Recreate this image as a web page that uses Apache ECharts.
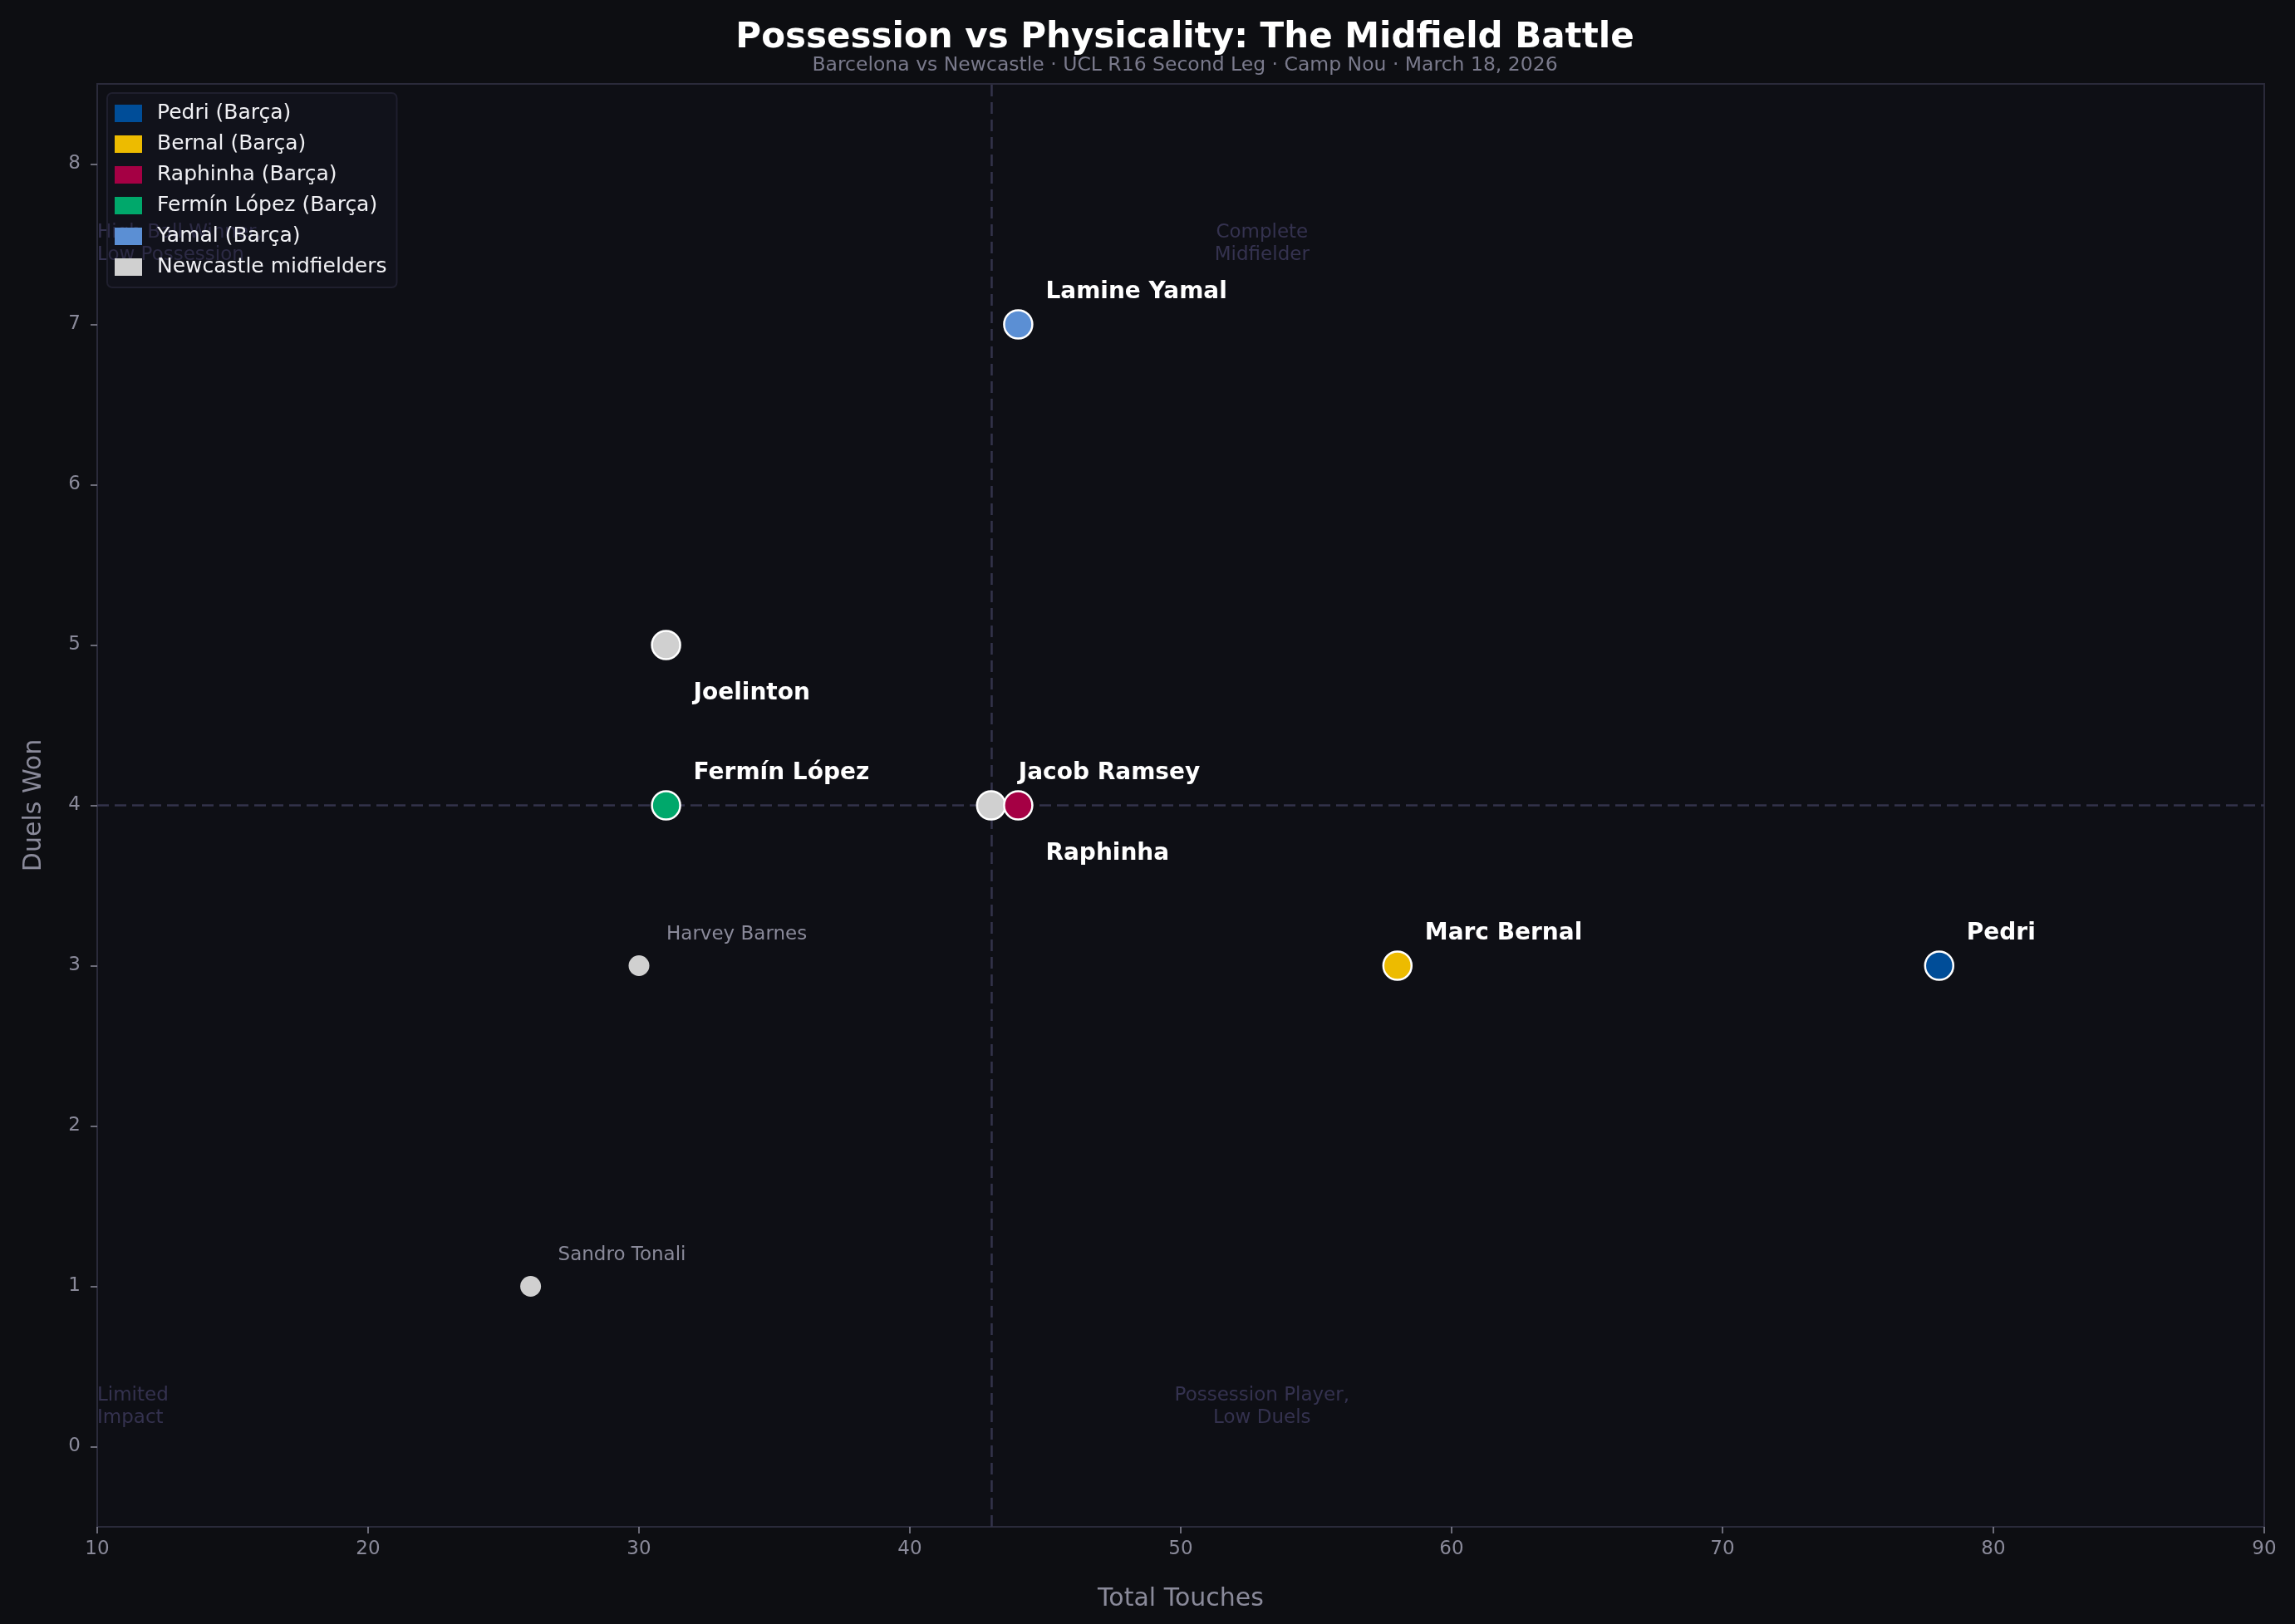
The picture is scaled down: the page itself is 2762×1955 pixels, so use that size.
<!DOCTYPE html>
<html>
<head>
<meta charset="utf-8">
<title>Possession vs Physicality</title>
<script src="https://cdn.jsdelivr.net/npm/echarts@6/dist/echarts.min.js"></script>
<style>
  html, body { margin: 0; padding: 0; background: #0d0e12; }
  #chart { width: 2762px; height: 1955px; }
</style>
</head>
<body>
<div id="chart"></div>
<script>
// --- data ---
var barcaNames = ['Pedri', 'Marc Bernal', 'Raphinha', 'Fermín López', 'Lamine Yamal'];
var barcaLegend = ['Pedri (Barça)', 'Bernal (Barça)', 'Raphinha (Barça)', 'Fermín López (Barça)', 'Yamal (Barça)'];
var barcaTouches = [78, 58, 44, 31, 44];
var barcaDuels = [3, 3, 4, 4, 7];

var newcastleNames = ['Joelinton', 'Jacob Ramsey', 'Harvey Barnes', 'Sandro Tonali'];
var newcastleTouches = [31, 43, 30, 26];
var newcastleDuels = [5, 4, 3, 1];

var touchRef = 43;   // vertical split
var duelRef = 4;     // horizontal split

var yTicks = [0, 1, 2, 3, 4, 5, 6, 7, 8];
var quadrantTexts = ['High Ball Winner,\nLow Possession', 'Complete\nMidfielder', 'Limited\nImpact', 'Possession Player,\nLow Duels'];

// --- style ---
var FONT = 'DejaVu Sans';
var barcaColors = ['#004d98', '#edbb00', '#a50044', '#00a86b', '#5b8fd4'];
var newcastleColor = '#d0d0d0';
var labelBelow = ['Joelinton', 'Raphinha'];
var keyNewcastle = ['Joelinton', 'Jacob Ramsey'];
// anchor of each quadrant caption, in data units, with text alignment
var quadrantAnchors = [[10, 7.5, 'left'], [53, 7.5, 'center'], [10, 0.25, 'left'], [53, 0.25, 'center']];

function pointLabel(name, strong) {
  var dy = labelBelow.indexOf(name) >= 0 ? 58 : (strong ? -39 : -37);
  return {
    show: true,
    position: 'inside',
    align: 'left',
    verticalAlign: 'middle',
    offset: [33, dy],
    formatter: name,
    color: strong ? '#ffffff' : '#8a8a9a',
    fontSize: strong ? 28 : 23,
    fontWeight: strong ? 'bold' : 'normal',
    fontFamily: FONT
  };
}

var series = [];

// reference lines + quadrant captions (behind everything)
series.push({
  type: 'scatter',
  name: 'quadrants',
  z: 1,
  silent: true,
  symbolSize: 0,
  data: quadrantTexts.map(function(t, i) {
    return {
      value: [quadrantAnchors[i][0], quadrantAnchors[i][1]],
      label: {
        show: true,
        position: 'inside',
        align: quadrantAnchors[i][2],
        verticalAlign: 'middle',
        formatter: t,
        color: '#3e3b5e',
        fontSize: 23,
        lineHeight: 27,
        fontFamily: FONT
      }
    };
  }),
  markLine: {
    silent: true,
    z: 1,
    symbol: 'none',
    label: { show: false },
    lineStyle: { color: '#33334a', type: [14, 7], width: 2.5, opacity: 1 },
    data: [{ xAxis: touchRef }, { yAxis: duelRef }]
  }
});

series.push({
  type: 'scatter',
  name: 'Newcastle midfielders',
  z: 3,
  itemStyle: { color: newcastleColor, opacity: 1 },
  data: newcastleNames.map(function(n, i) {
    var strong = keyNewcastle.indexOf(n) >= 0;
    return {
      name: n,
      value: [newcastleTouches[i], newcastleDuels[i]],
      symbolSize: strong ? 34 : 25,
      itemStyle: strong ? { borderColor: '#ffffff', borderWidth: 2.5, opacity: 1 } : { borderWidth: 0, opacity: 1 },
      label: pointLabel(n, strong)
    };
  })
});

barcaNames.forEach(function(n, i) {
  series.push({
    type: 'scatter',
    name: barcaLegend[i],
    z: 4,
    symbolSize: 34,
    itemStyle: { color: barcaColors[i], borderColor: '#ffffff', borderWidth: 2.5, opacity: 1 },
    data: [{ name: n, value: [barcaTouches[i], barcaDuels[i]], label: pointLabel(n, true) }]
  });
});

var chart = echarts.init(document.getElementById('chart'));
chart.setOption({
  backgroundColor: '#0d0e12',
  animation: false,
  title: {
    text: 'Possession vs Physicality: The Midfield Battle',
    subtext: 'Barcelona vs Newcastle · UCL R16 Second Leg · Camp Nou · March 18, 2026',
    left: 1421,
    textAlign: 'center',
    top: 20,
    itemGap: 0,
    textStyle: { color: '#ffffff', fontSize: 42, fontWeight: 'bold', fontFamily: FONT },
    subtextStyle: { color: '#7a7a8c', fontSize: 23.5, fontFamily: FONT }
  },
  legend: {
    data: barcaLegend.concat(['Newcastle midfielders']),
    orient: 'vertical',
    left: 129,
    top: 112,
    icon: 'rect',
    itemWidth: 33,
    itemHeight: 21,
    itemGap: 12,
    padding: [12, 12, 12, 9],
    backgroundColor: 'rgba(26,26,44,0.3)',
    borderColor: '#1f1f2e',
    borderWidth: 2,
    borderRadius: 6,
    itemStyle: { borderWidth: 0, opacity: 1 },
    textStyle: { color: '#f0f0f4', fontSize: 25, fontFamily: FONT, padding: [0, 0, 0, 13] }
  },
  grid: {
    left: 117, right: 37, top: 101, bottom: 117,
    show: true,
    backgroundColor: '#0e0f15',
    borderColor: '#2a2a3a',
    borderWidth: 2
  },
  xAxis: {
    type: 'value',
    min: 10, max: 90, interval: 10,
    name: 'Total Touches',
    nameLocation: 'middle',
    nameGap: 72,
    nameTextStyle: { color: '#8a8a9a', fontSize: 30, fontFamily: FONT },
    axisLine: { show: true, onZero: false, lineStyle: { color: '#2a2a3a', width: 2 } },
    axisTick: { show: true, length: 8, lineStyle: { color: '#8a8a9a', width: 1.5 } },
    axisLabel: { color: '#8a8a9a', fontSize: 23, margin: 16, fontFamily: FONT },
    splitLine: { show: false }
  },
  yAxis: {
    type: 'value',
    min: -0.5, max: 8.5,
    name: 'Duels Won',
    nameLocation: 'middle',
    nameGap: 61,
    nameTextStyle: { color: '#8a8a9a', fontSize: 30, fontFamily: FONT },
    axisLine: { show: true, onZero: false, lineStyle: { color: '#2a2a3a', width: 2 } },
    axisTick: { show: true, length: 8, customValues: yTicks, lineStyle: { color: '#8a8a9a', width: 1.5 } },
    axisLabel: { color: '#8a8a9a', fontSize: 23, margin: 20, customValues: yTicks, fontFamily: FONT },
    splitLine: { show: false }
  },
  series: series
});
</script>
</body>
</html>
